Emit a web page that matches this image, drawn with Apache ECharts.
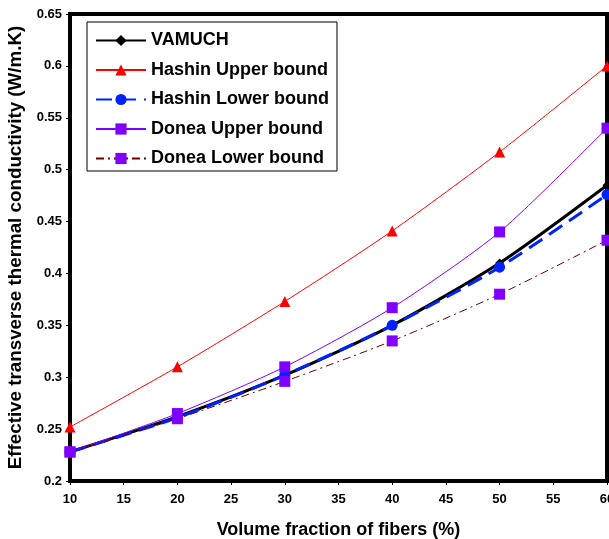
<!DOCTYPE html>
<html>
<head>
<meta charset="utf-8">
<script src="https://cdn.jsdelivr.net/npm/echarts@6/dist/echarts.min.js"></script>
<style>
  html, body { margin: 0; padding: 0; background: #fff; }
  #chart { width: 609px; height: 539px; }
</style>
</head>
<body>
<div id="chart"></div>
<script>
// volume fraction of fibers (%)
const fractions = [10, 20, 30, 40, 50, 60];

// effective transverse thermal conductivity (W/m.K)
const vamuch      = [0.228, 0.262, 0.302, 0.350, 0.410, 0.485];
const hashinUpper = [0.252, 0.310, 0.373, 0.441, 0.517, 0.600];
const hashinLower = [0.228, 0.261, 0.302, 0.350, 0.406, 0.476];
const doneaUpper  = [0.228, 0.265, 0.310, 0.367, 0.440, 0.540];
const doneaLower  = [0.228, 0.260, 0.296, 0.335, 0.380, 0.432];

const font = 'Liberation Sans, Arial, sans-serif';

function pairs(values) {
    return fractions.map((x, i) => [x, values[i]]);
}

let chart = echarts.init(document.getElementById('chart'));

let series = [
    {
        name: 'VAMUCH',
        data: pairs(vamuch),
        color: '#000000',
        symbol: 'diamond',
        symbolSize: 9,
        lineStyle: { width: 3, color: '#000000' }
    },
    {
        name: 'Hashin Upper bound',
        data: pairs(hashinUpper),
        color: '#ff0000',
        symbol: 'triangle',
        symbolSize: 11,
        lineStyle: { width: 1, color: '#ff0000' }
    },
    {
        name: 'Hashin Lower bound',
        data: pairs(hashinLower),
        color: '#0022ff',
        symbol: 'circle',
        symbolSize: 11,
        lineStyle: { width: 3, color: '#0022ff', type: [16, 8] }
    },
    {
        name: 'Donea Upper bound',
        data: pairs(doneaUpper),
        color: '#7f00ff',
        symbol: 'rect',
        symbolSize: 11,
        lineStyle: { width: 1, color: '#7f00ff' }
    },
    {
        name: 'Donea Lower bound',
        data: pairs(doneaLower),
        color: '#7f00ff',
        symbol: 'rect',
        symbolSize: 11,
        lineStyle: { width: 1, color: '#6b0000', type: [8, 4, 2, 4] }
    }
].map(s => Object.assign({
    type: 'line',
    smooth: 0.25,
    showAllSymbol: true,
    z: 2,
    animation: false
}, s));

let options = {
    backgroundColor: '#ffffff',
    animation: false,
    grid: {
        left: 70,
        top: 14,
        right: 2,
        bottom: 58,
        outerBoundsMode: 'none',
        containLabel: false,
        show: true,
        borderColor: '#000000',
        borderWidth: 4
    },
    legend: {
        orient: 'vertical',
        left: 87,
        top: 22,
        padding: [8, 8, 2, 8],
        itemWidth: 50,
        itemHeight: 14,
        itemGap: 8.5,
        backgroundColor: '#ffffff',
        borderColor: '#000000',
        borderWidth: 1,
        borderRadius: 0,
        textStyle: {
            fontFamily: font,
            fontWeight: 'bold',
            fontSize: 18,
            lineHeight: 21,
            color: '#000000'
        },
        data: series.map(s => s.name)
    },
    xAxis: {
        type: 'value',
        min: 10,
        max: 60,
        interval: 5,
        name: 'Volume fraction of fibers (%)',
        nameLocation: 'middle',
        nameGap: 40,
        nameTextStyle: { fontFamily: font, fontWeight: 'bold', fontSize: 18, color: '#000000' },
        axisLine: { show: true, lineStyle: { color: '#000000', width: 4 } },
        axisTick: { show: true, length: 4, lineStyle: { color: '#000000', width: 1 } },
        axisLabel: { fontFamily: font, fontWeight: 'bold', fontSize: 13, color: '#000000', margin: 12 },
        splitLine: { show: false }
    },
    yAxis: {
        type: 'value',
        min: 0.2,
        max: 0.65,
        interval: 0.05,
        name: 'Effective transverse thermal conductivity (W/m.K)',
        nameLocation: 'middle',
        nameGap: 38,
        nameTextStyle: { fontFamily: font, fontWeight: 'bold', fontSize: 18.8, color: '#000000' },
        axisLine: { show: true, lineStyle: { color: '#000000', width: 4 } },
        axisTick: { show: true, length: 4, lineStyle: { color: '#000000', width: 1 } },
        axisLabel: {
            fontFamily: font,
            fontWeight: 'bold',
            fontSize: 13,
            color: '#000000',
            margin: 8,
            formatter: v => String(parseFloat(v.toFixed(2)))
        },
        splitLine: { show: false }
    },
    series
};

chart.setOption(options);
</script>
</body>
</html>
